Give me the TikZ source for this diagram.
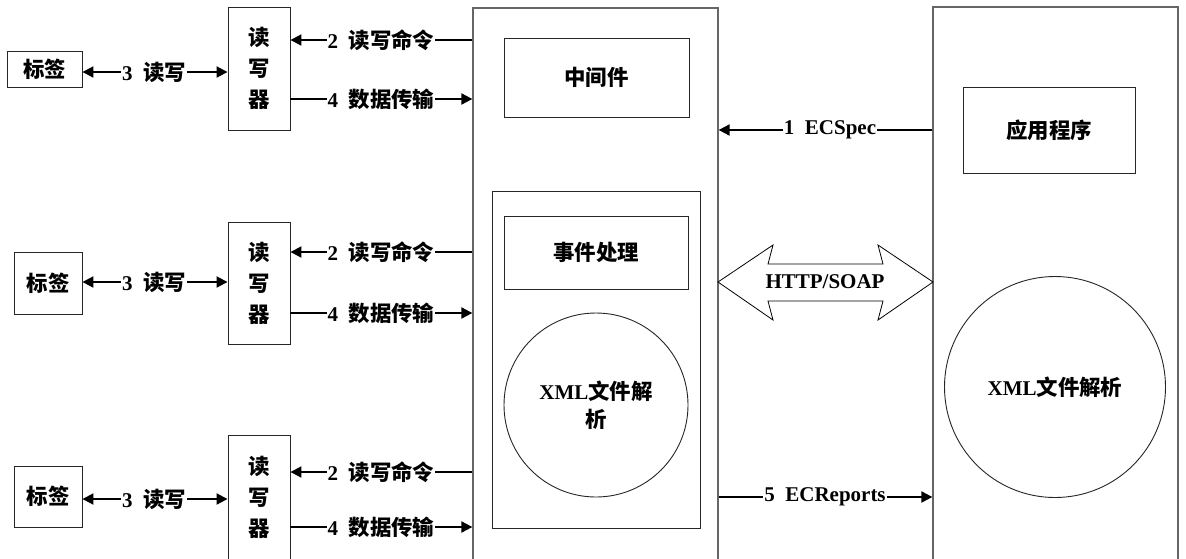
\documentclass[tikz,border=0pt]{standalone}
\usepackage{fontspec}
\setmainfont{Liberation Serif}
\newfontfamily\cjk{Noto Sans CJK SC}[Scale=1.02]
\usetikzlibrary{arrows.meta}
\newcommand\lbl[2]{#1\hspace{0.5em}{\cjk #2}}
\begin{document}
\begin{tikzpicture}[x=1pt,y=-1pt,
  every node/.style={font=\bfseries\fontsize{21}{25}\selectfont},
  box/.style={draw=black!85, line width=0.9pt, inner sep=0pt, align=center},
  big/.style={draw=black!60, line width=1.3pt, inner sep=0pt},
  zh/.style={font=\cjk\bfseries\fontsize{21}{31}\selectfont},
  arr/.style={line width=2pt, -{Triangle[length=11pt,width=11pt]}},
  darr/.style={line width=2pt, {Triangle[length=11pt,width=11pt]}-{Triangle[length=11pt,width=11pt]}},
  lab/.style={fill=white, inner xsep=1pt, inner ysep=0pt},
]
\useasboundingbox (0,0) rectangle (1186,558);
\fill[white] (0,0) rectangle (1186,558);

% big containers
\node[big, minimum width=245, minimum height=556] (mw) at (595.5,286) {};
\node[big, minimum width=245, minimum height=556] (rb) at (1055.5,285) {};

% middleware internals
\node[box, zh, minimum width=185, minimum height=79] (mid) at (596.5,77.5) {中间件};
\node[box, minimum width=208, minimum height=337] (inner) at (596,359.5) {};
\node[box, zh, minimum width=184, minimum height=73] (evt) at (596,252.5) {事件处理};
\node[box, circle, minimum size=184, align=center, font=\bfseries\fontsize{21}{28}\selectfont] (xml1) at (596,405) {XML{\cjk 文件解}\\{\cjk 析}};

% application internals
\node[box, zh, minimum width=172, minimum height=86] (app) at (1049,130) {应用程序};
\node[box, circle, minimum size=221, font=\bfseries\fontsize{21}{25}\selectfont] (xml2) at (1055,387) {XML{\cjk 文件解析}};

% rows: tags and readers
\node[box, zh, minimum width=75, minimum height=36] (t1) at (44.5,69) {标签};
\node[box, zh, minimum width=62, minimum height=123] (r1) at (259,68.5) {读\\写\\器};
\node[box, zh, minimum width=68, minimum height=62] (t2) at (48,283) {标签};
\node[box, zh, minimum width=62, minimum height=122] (r2) at (259,283) {读\\写\\器};
\node[box, zh, minimum width=68, minimum height=61] (t3) at (48,496.5) {标签};
\node[box, zh, minimum width=62, minimum height=124] (r3) at (259,497) {读\\写\\器};

% helper y levels
\coordinate (a1) at (0,40);  \coordinate (b1) at (0,99);  \coordinate (c1) at (0,72);
\coordinate (a2) at (0,252); \coordinate (b2) at (0,313); \coordinate (c2) at (0,282);
\coordinate (a3) at (0,472); \coordinate (b3) at (0,527); \coordinate (c3) at (0,499);
\coordinate (ye) at (0,130); \coordinate (yr) at (0,497);

% row connectors
\foreach \i in {1,2,3}{
  \draw[arr] (mw.west |- a\i) -- (r\i.east |- a\i);
  \node[lab] at (381,0 |- a\i) {\lbl{2}{读写命令}};
  \draw[arr] (r\i.east |- b\i) -- (mw.west |- b\i);
  \node[lab] at (381,0 |- b\i) {\lbl{4}{数据传输}};
  \draw[darr] (t\i.east |- c\i) -- (r\i.west |- c\i);
  \node[lab] at (154,0 |- c\i) {\lbl{3}{读写}};
}

% ECSpec / ECReports
\draw[arr] (rb.west |- ye) -- (mw.east |- ye);
\node[lab] at (830,130) {\lbl{1}{}ECSpec};
\draw[arr] (mw.east |- yr) -- (rb.west |- yr);
\node[lab] at (825,497) {\lbl{5}{}ECReports};

% HTTP/SOAP double block arrow
\draw[line width=0.8pt, fill=white] (718,282) -- (773,245) -- (768,264) -- (883,264) -- (878,245) -- (933,282)
  -- (878,320) -- (883,301) -- (768,301) -- (773,320) -- cycle;
\node (http) at (825,282) {HTTP/SOAP};
\end{tikzpicture}
\end{document}
